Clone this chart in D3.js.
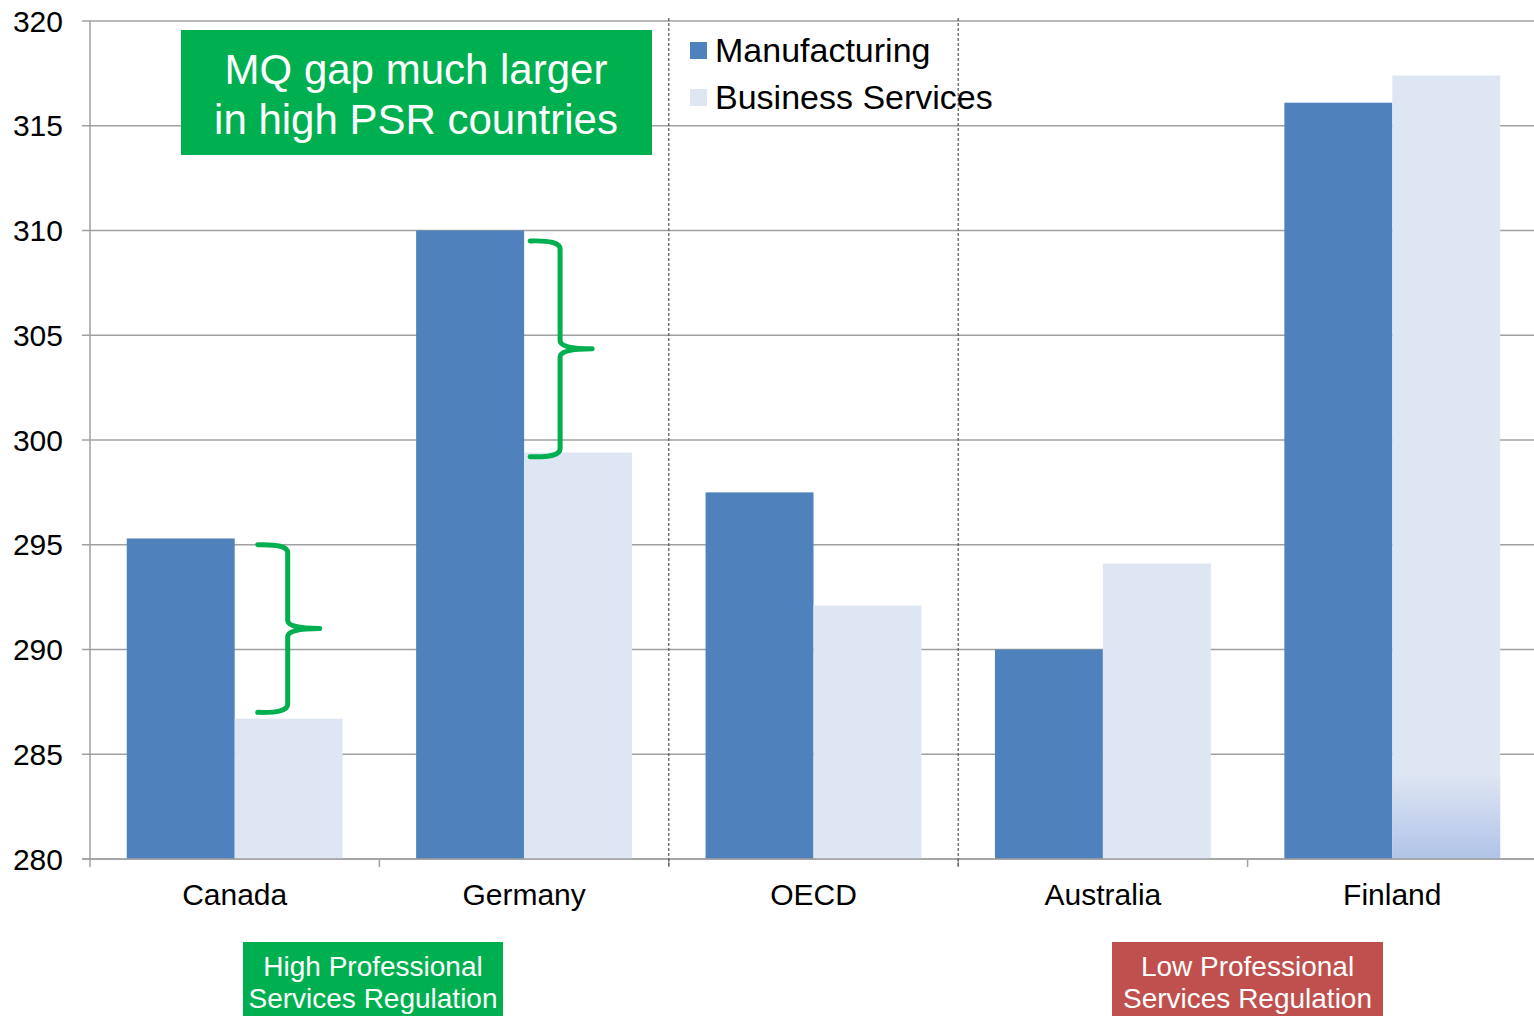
<!DOCTYPE html>
<html>
<head>
<meta charset="utf-8">
<script src="https://cdn.jsdelivr.net/npm/d3@7"></script>
<style>
  html, body { margin: 0; padding: 0; background: #fff; }
  svg { display: block; }
  svg text { font-family: Arial, "Liberation Sans", Helvetica, sans-serif; }
</style>
</head>
<body>
<svg id="chart" width="1534" height="1016"></svg>
<script>
// Management quality scores by country and sector
const countries = ["Canada", "Germany", "OECD", "Australia", "Finland"];
const seriesNames = ["Manufacturing", "Business Services"];
const manufacturing = [295.3, 310.0, 297.5, 290.0, 316.1];
const businessServices = [286.7, 299.4, 292.1, 294.1, 317.4];
const yTicks = [280, 285, 290, 295, 300, 305, 310, 315, 320];
const separatorsAfter = ["Germany", "OECD"];
// brace annotations: country, low and high end of the gap bracket
const gapBraces = [
  { country: "Canada", low: 287.0, high: 295.0 },
  { country: "Germany", low: 299.2, high: 309.5 }
];
const headline = ["MQ gap much larger", "in high PSR countries"];
const groupLabels = [
  { lines: ["High Professional", "Services Regulation"], color: "#00B050" },
  { lines: ["Low Professional", "Services Regulation"], color: "#C0504D" }
];

const colors = { "Manufacturing": "#4F81BD", "Business Services": "#DFE6F3" };
const gridColor = "#A0A0A0";
const FONT = "Arial, 'Liberation Sans', Helvetica, sans-serif";

const svg = d3.select("#chart").attr("font-family", FONT);

const x0 = d3.scaleBand().domain(countries).range([90, 1537]).paddingInner(0).paddingOuter(0);
const y = d3.scaleLinear().domain([280, 320]).range([859, 21]);
const inner = 0.746; // fraction of a band used by the bar pair
const x1 = d3.scaleBand().domain(seriesNames)
  .range([x0.bandwidth() * (1 - inner) / 2, x0.bandwidth() * (1 + inner) / 2]);

// gradient at the foot of the last business-services bar
const defs = svg.append("defs");
const grad = defs.append("linearGradient").attr("id", "bsFade")
  .attr("x1", 0).attr("y1", 0).attr("x2", 0).attr("y2", 1);
grad.append("stop").attr("offset", "0").attr("stop-color", "#DFE6F3");
grad.append("stop").attr("offset", "0.89").attr("stop-color", "#DFE6F3");
grad.append("stop").attr("offset", "1").attr("stop-color", "#B0C4E8");

// gridlines
svg.append("g").selectAll("line").data(yTicks).join("line")
  .attr("x1", 82).attr("x2", 1534)
  .attr("y1", d => y(d)).attr("y2", d => y(d))
  .attr("stroke", gridColor).attr("stroke-width", 1.5);

// y axis labels
svg.append("g").selectAll("text").data(yTicks).join("text")
  .attr("x", 63).attr("y", d => y(d) + 10.5)
  .attr("text-anchor", "end").attr("font-size", 30).attr("fill", "#000")
  .text(d => d);

// bars
const rows = countries.map((c, i) => ({ country: c, values: [manufacturing[i], businessServices[i]] }));
const groups = svg.append("g").selectAll("g").data(rows).join("g")
  .attr("transform", d => `translate(${x0(d.country)},0)`);
groups.selectAll("rect")
  .data(d => d.values.map((v, j) => ({ key: seriesNames[j], value: v, country: d.country })))
  .join("rect")
  .attr("x", d => x1(d.key))
  .attr("width", x1.bandwidth())
  .attr("y", d => y(d.value))
  .attr("height", d => y(280) - y(d.value))
  .attr("fill", d => (d.country === "Finland" && d.key === "Business Services") ? "url(#bsFade)" : colors[d.key]);

// axes lines
svg.append("line").attr("x1", 90).attr("x2", 90).attr("y1", y(320)).attr("y2", 867)
  .attr("stroke", gridColor).attr("stroke-width", 1.5);
svg.append("line").attr("x1", 82).attr("x2", 1534).attr("y1", y(280)).attr("y2", y(280))
  .attr("stroke", gridColor).attr("stroke-width", 1.5);
const bounds = countries.map(c => x0(c)).slice(1);
svg.append("g").selectAll("line").data(bounds).join("line")
  .attr("x1", d => d).attr("x2", d => d).attr("y1", y(280)).attr("y2", 867)
  .attr("stroke", gridColor).attr("stroke-width", 1.5);

// dashed separators between groups
svg.append("g").selectAll("line").data(separatorsAfter).join("line")
  .attr("x1", d => x0(d) + x0.bandwidth()).attr("x2", d => x0(d) + x0.bandwidth())
  .attr("y1", 18).attr("y2", 867)
  .attr("stroke", "#555").attr("stroke-width", 1.2).attr("stroke-dasharray", "3,2");

// category labels
svg.append("g").selectAll("text").data(countries).join("text")
  .attr("x", d => x0(d) + x0.bandwidth() / 2).attr("y", 905)
  .attr("text-anchor", "middle").attr("font-size", 30).attr("fill", "#000")
  .text(d => d);

// legend
const legend = svg.append("g").attr("transform", "translate(690,42)");
seriesNames.forEach((s, i) => {
  const g = legend.append("g").attr("transform", `translate(0,${i * 47})`);
  g.append("rect").attr("width", 17).attr("height", 17).attr("fill", colors[s]);
  g.append("text").attr("x", 25).attr("y", 20).attr("font-size", 34).attr("fill", "#000").text(s);
});

// headline box
const hb = svg.append("g");
hb.append("rect").attr("x", 181).attr("y", 30).attr("width", 471).attr("height", 125).attr("fill", "#00B050");
hb.selectAll("text").data(headline).join("text")
  .attr("x", 416).attr("y", (d, i) => 84 + i * 50)
  .attr("text-anchor", "middle").attr("font-size", 42).attr("fill", "#fff")
  .text(d => d);

// gap braces
gapBraces.forEach(b => {
  const xs = x0(b.country) + x1("Business Services");
  const isCanada = b.country === "Canada";
  const xl = xs + (isCanada ? 23 : 6);
  const xv = xl + 30;
  const xt = xv + 32;
  const yt = y(b.high), yb = y(b.low), ym = (yt + yb) / 2;
  const r = 8;
  const p = d3.path();
  p.moveTo(xl, yt);
  p.quadraticCurveTo(xv, yt - 1, xv, yt + r);
  p.lineTo(xv, ym - r);
  p.quadraticCurveTo(xv, ym, xt, ym);
  p.moveTo(xt, ym);
  p.quadraticCurveTo(xv, ym, xv, ym + r);
  p.lineTo(xv, yb - r);
  p.quadraticCurveTo(xv, yb + 1, xl, yb);
  svg.append("path").attr("d", p.toString())
    .attr("fill", "none").attr("stroke", "#00B050").attr("stroke-width", 5)
    .attr("stroke-linecap", "round").attr("stroke-linejoin", "round");
});

// regulation group labels
const labelBoxes = [{ x: 243, w: 260 }, { x: 1112, w: 271 }];
groupLabels.forEach((gl, i) => {
  const bx = labelBoxes[i];
  const cx = bx.x + bx.w / 2;
  const g = svg.append("g");
  g.append("rect").attr("x", bx.x).attr("y", 942).attr("width", bx.w).attr("height", 74).attr("fill", gl.color);
  g.selectAll("text").data(gl.lines).join("text")
    .attr("x", cx).attr("y", (d, j) => 976 + j * 32)
    .attr("text-anchor", "middle").attr("font-size", 28).attr("fill", "#fff")
    .text(d => d);
});
</script>
</body>
</html>
